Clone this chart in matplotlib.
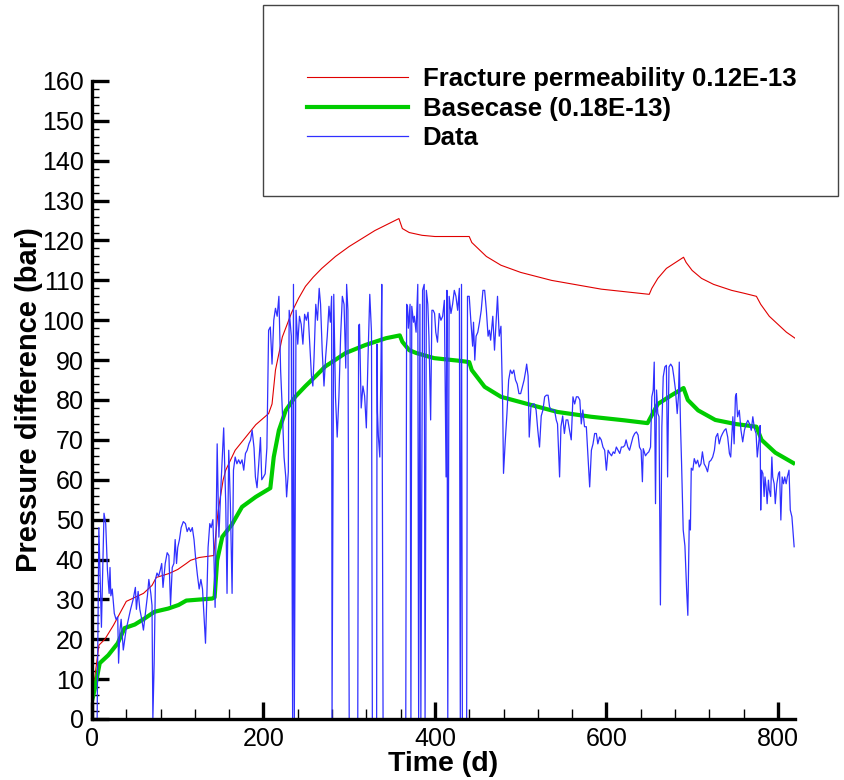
import matplotlib
matplotlib.use("Agg")
import matplotlib.pyplot as plt
import matplotlib.patches as patches
from matplotlib.ticker import MultipleLocator

plt.rcParams['font.family'] = ['Liberation Sans', 'DejaVu Sans']

# Fracture permeability 0.12E-13 (simulation)
red_t = [0, 3, 8, 15, 25, 35, 40, 50, 60, 70, 75, 90, 100, 110, 115, 125, 142,
         147, 153, 156, 167, 179, 191, 206, 210, 214, 222, 233, 241, 249, 258,
         268, 284, 300, 330, 358, 362, 370, 385, 400, 440, 443, 460, 477, 500,
         536, 594, 650, 653, 660, 670, 690, 693, 700, 711, 725, 746, 760, 775,
         780, 790, 800, 810, 820]
red_v = [5, 10, 18.5, 20, 23.5, 27.5, 29.5, 30.5, 31.5, 33.5, 35.5, 36.5, 37.5,
         39, 39.8, 40.5, 41, 52, 60, 62.4, 67.4, 70.6, 73.8, 76.6, 79, 87.5,
         95.8, 102, 105.5, 108.5, 110.8, 113, 116, 118.5, 122.5, 125.5, 123,
         122, 121.3, 121, 121, 119.5, 116, 113.8, 112, 110, 107.8, 106.5, 108,
         110.5, 113, 115.8, 114.5, 112.5, 110.5, 109, 107.5, 106.8, 106, 104,
         101, 99, 97, 95.5]

# Basecase (0.18E-13)
green_t = [0, 3, 9, 19, 30, 38, 50, 62, 73, 89, 101, 110, 116, 140, 143, 146,
           152, 163, 175, 191, 208, 212, 218, 226, 237, 249, 261, 272, 296, 319,
           343, 359, 362, 370, 378, 399, 430, 440, 443, 458, 477, 508, 543, 582,
           621, 648, 660, 676, 690, 695, 707, 727, 750, 775, 781, 797, 818]
green_v = [4.5, 7.3, 14, 16, 19, 22.8, 23.7, 25.3, 26.9, 27.7, 28.6, 29.7, 29.8,
           30.2, 30.5, 39.8, 45.7, 48.7, 53.2, 55.7, 57.9, 65.7, 72.4, 77.4,
           80.8, 83.5, 86, 88.4, 91.8, 93.8, 95.5, 96.2, 94.6, 92.5, 91.8, 90.5,
           89.8, 89.5, 87.5, 83.3, 80.8, 79, 77, 75.8, 74.9, 74.2, 79, 81.2, 83,
           80, 77.4, 75, 74, 73.3, 70, 66.8, 64.2]

# Measured data
data_t = [6, 8, 11, 14, 16, 18, 20, 21, 22, 23.6, 26, 28, 30, 31, 32.6, 34,
          36.5, 39.7, 42.5, 45, 48, 50.6, 51.8, 53.8, 55.8, 58, 60, 62.8, 64.7,
          66.3, 68.6, 70, 71, 72.5, 74, 75.8, 77.7, 79.8, 81.3, 82.8, 85.4,
          87.7, 89.7, 91.6, 93.6, 95.5, 97, 98.6, 100, 102, 104, 106.5, 109,
          111, 113, 115, 117, 119, 121, 123, 125, 127, 128.9, 130.9, 132.4, 134,
          135.4, 137.4, 139, 141, 142, 143.6, 146, 148, 150.5, 153.6, 156,
          157.5, 159.5, 161.4, 163.4, 165, 167, 169, 171, 173, 175, 177, 179,
          181, 183, 185, 186.8, 189, 190.6, 192.5, 194.5, 196.5, 198, 200, 202,
          204, 206, 208, 210, 212, 214, 216, 218, 220, 222, 224, 226, 227, 229,
          230, 232.5, 234, 235, 236, 238, 240, 242, 244, 246, 248, 250, 252,
          254, 256, 257.6, 259, 261, 263, 265, 266.6, 268.5, 270.6, 272.5,
          274.4, 276.4, 278, 279.5, 280, 282, 284, 286, 288, 290, 292, 294, 296,
          297, 298.5, 300, 310, 311, 312, 314, 316, 318, 320, 322, 324, 326,
          327, 332, 332.5, 333, 334, 335.7, 337, 338, 339.5, 366, 367, 368, 369,
          371, 372, 373, 375, 376, 378, 380, 381, 382.5, 383.6, 385.6, 387.5,
          388.5, 390, 391.7, 393, 395, 396.5, 398, 399.6, 401, 403, 405, 407,
          409, 411, 413, 414, 415, 416.6, 418.7, 420.6, 422.6, 424.5, 426.5,
          428.5, 429.6, 431, 432, 437, 438, 440, 442, 444, 445, 446.5, 448, 450,
          452, 454, 456, 458, 460, 462, 463.5, 465, 467.5, 469.5, 471, 473, 475,
          477, 479, 480, 482, 484, 486, 488, 490, 492, 494, 496, 498, 500, 502,
          504, 506, 507, 508.7, 510, 512, 514, 516, 518, 520, 522, 524, 526,
          528, 530, 532, 533.7, 535.6, 537.5, 539.5, 541.5, 543, 545.4, 547,
          549, 551, 553, 555, 557, 559, 561, 563, 565, 567, 569, 570.7, 572.5,
          574.5, 576.6, 578.5, 580.5, 582.5, 584.4, 586.3, 588.3, 590, 592, 594,
          596, 598, 600, 602, 604, 606, 608, 609.7, 611.6, 613.6, 615.6, 617.5,
          619.5, 621.4, 623, 625, 627, 629, 631, 633, 635, 637, 638.6, 640.5,
          642, 643, 645.6, 647.5, 649.5, 651.5, 653, 654.6, 655.8, 657.3, 658.5,
          660, 661.4, 663, 664.7, 666.3, 668.2, 670, 671.4, 673, 675, 677,
          678.7, 680.6, 682.6, 684, 685, 686.5, 687.7, 689.6, 691.6, 693.6, 695,
          696.7, 698, 699, 700.8, 702.5, 704.5, 706.4, 708.3, 710.3, 712, 714,
          716, 718, 720, 722, 724, 726, 727.7, 729.8, 731.6, 733.6, 735.5,
          737.6, 739.5, 741.5, 743.5, 745, 747.5, 749, 750.5, 751.6, 753, 755,
          757, 759, 761, 763, 765, 767, 769, 770.8, 772.7, 774.6, 776, 778,
          779.3, 780, 781, 782.5, 784, 785, 786.3, 787.5, 789, 790, 791.6, 793,
          794, 795.7, 797, 798.8, 800.8, 802, 803.5, 805, 806.6, 808, 809.7,
          811, 813, 814.5, 816.4, 819]
data_v = [0, 48, 23, 51.6, 49, 37.3, 31.5, 38, 30.9, 32.6, 26.5, 25, 25.6, 14,
          22.3, 25, 17.3, 22.3, 25, 27.5, 30, 33, 27.5, 32, 27.5, 25, 22.3, 27.5,
          31, 35, 31.5, 28.5, 0, 14, 35, 36.6, 35.8, 37.5, 39, 33, 39, 41.7, 41,
          28.5, 38, 39, 45, 39, 43, 45, 48, 49.5, 49, 47, 48, 47, 48, 45, 40, 36,
          32.6, 35, 32.6, 25, 19, 31, 43, 49, 48, 50, 43, 28, 69, 45.6, 59, 73,
          54, 31.5, 67.4, 54, 31.5, 62.4, 65.7, 64, 65, 64, 65, 62.4, 66.6, 67.4,
          69, 70, 72.4, 68, 60.7, 58, 64, 70.6, 60, 60.7, 61.5, 68, 97.5, 98.3,
          89, 100, 103, 101, 106, 87.5, 77.4, 65.7, 60.7, 55.7, 62, 102.5, 96, 0,
          109, 0, 102.5, 94, 101, 99, 94, 101.5, 100, 102, 94, 86, 83.5, 90.7,
          104, 100, 108, 104, 92.5, 83.5, 90.7, 96, 103.5, 99.5, 106, 0, 106.5,
          80.8, 70.7, 80.8, 96, 106, 104, 88, 109, 102.5, 0, 0, 98.7, 99, 78,
          83.5, 81, 73, 91, 106.5, 97, 0, 0, 94, 77, 71, 65.7, 87.5, 109, 0, 0,
          104, 103.5, 98, 104, 0, 103.5, 99.5, 101, 97, 109, 0, 104, 0, 107.5,
          109, 0, 107.5, 104, 96, 75, 102.5, 102.5, 101.7, 97, 94.5, 101.7, 100,
          101, 105, 60.7, 107.5, 0, 106, 101.7, 104, 107.5, 106, 102.5, 108, 0,
          109, 0, 0, 106, 106, 99.5, 93.5, 99.5, 90, 96, 97, 99.5, 102.5, 107.5,
          107.5, 102.5, 96, 97.5, 95, 101, 92.5, 98.5, 106, 96, 98.5, 79, 61.6,
          69.6, 76.6, 85, 87.5, 86.6, 87.5, 85, 84, 81.6, 81.6, 83.3, 85, 87.5,
          89, 86, 70.7, 78.3, 79, 79, 77.5, 72.4, 68.2, 76, 77.5, 80.8, 81.2,
          81.2, 78.3, 77.5, 77.5, 77.5, 75, 74, 60.7, 73.3, 76, 71.6, 75, 75,
          72.4, 70, 80.8, 79, 80.8, 80.8, 80, 74, 77.5, 73.3, 73.3, 65.7, 58.2,
          67.4, 69, 71.6, 71.6, 69, 70.7, 70, 68.2, 67.4, 62.4, 67.4, 66.6, 66,
          67, 66.6, 68.2, 67.4, 66.6, 68.2, 68.2, 68.6, 70, 68.2, 67.4, 69, 70.7,
          71.6, 72, 71.2, 68.2, 67.4, 59.5, 67.8, 66, 66.6, 67, 68.2, 80.8, 82.5,
          89.5, 54, 82.5, 76.6, 75.8, 28.6, 73.3, 85.8, 88.3, 88.7, 60.7, 88.3,
          89, 88.3, 85.8, 82.5, 76.6, 80.8, 89.5, 73.3, 64, 47.4, 43.4, 32.3,
          26, 49.9, 47.4, 62.9, 62.4, 65.3, 64, 64.9, 63.2, 64, 67, 64, 63.2, 62,
          64.5, 64.9, 65.7, 67.4, 70.7, 71.6, 69, 70.7, 71.6, 72.4, 72.8, 70.7,
          66.6, 65.7, 75.8, 69, 80.8, 81.6, 75.8, 77.4, 72.4, 69.5, 72.4, 74,
          74.9, 74, 72.4, 75.8, 72.8, 71.6, 65.7, 70, 73.6, 52.4, 62.4, 61.6,
          55.8, 60.7, 58.2, 54, 59.9, 57.4, 55.8, 65.7, 60.7, 59, 54, 59, 61.6,
          62, 49.9, 60.7, 59, 60.7, 59, 60.7, 62.4, 52.4, 50.7, 43.2]

x_ticks = [0, 200, 400, 600, 800]
y_ticks = list(range(0, 161, 10))

fig = plt.figure(figsize=(8.44, 7.8), dpi=100)
ax = fig.add_axes([92 / 844, 1 - 719 / 780, 703 / 844, 638 / 780])

l_red, = ax.plot(red_t, red_v, color='#e00000', lw=0.8)
l_green, = ax.plot(green_t, green_v, color='#00cc00', lw=3.0)
l_blue, = ax.plot(data_t, data_v, color='#3030ff', lw=0.9)

ax.set_xlim(0, 820)
ax.set_ylim(0, 160)
ax.set_xticks(x_ticks)
ax.set_yticks(y_ticks)
ax.xaxis.set_minor_locator(MultipleLocator(40))
ax.yaxis.set_minor_locator(MultipleLocator(2))

for s in ['top', 'right']:
    ax.spines[s].set_visible(False)
for s in ['left', 'bottom']:
    ax.spines[s].set_linewidth(2.4)

ax.tick_params(which='major', direction='in', length=12, width=2.4,
               labelsize=18, pad=6)
ax.tick_params(axis='x', which='minor', direction='in', length=7, width=1)
ax.tick_params(axis='y', which='minor', direction='in', length=5, width=1)

ax.set_xlabel('Time (d)', fontsize=20.5, fontweight='bold', labelpad=0)
ax.set_ylabel('Pressure difference (bar)', fontsize=21, fontweight='bold',
              labelpad=-1)

# legend frame (sticks out above the axes)
box = patches.Rectangle((263 / 844, 1 - 196 / 780), 575 / 844, 191 / 780,
                        transform=fig.transFigure, facecolor='white',
                        edgecolor='#444444', lw=1, zorder=5)
fig.patches.append(box)

leg = fig.legend([l_red, l_green, l_blue],
                 ['Fracture permeability 0.12E-13', 'Basecase (0.18E-13)', 'Data'],
                 loc='upper left', bbox_to_anchor=(307 / 844, 1 - 67 / 780),
                 frameon=False, borderpad=0, borderaxespad=0,
                 handlelength=3.95, handletextpad=0.55, labelspacing=0.22,
                 prop={'size': 18.5, 'weight': 'bold'})
leg.set_zorder(6)

fig.savefig('out.png', dpi=100)
